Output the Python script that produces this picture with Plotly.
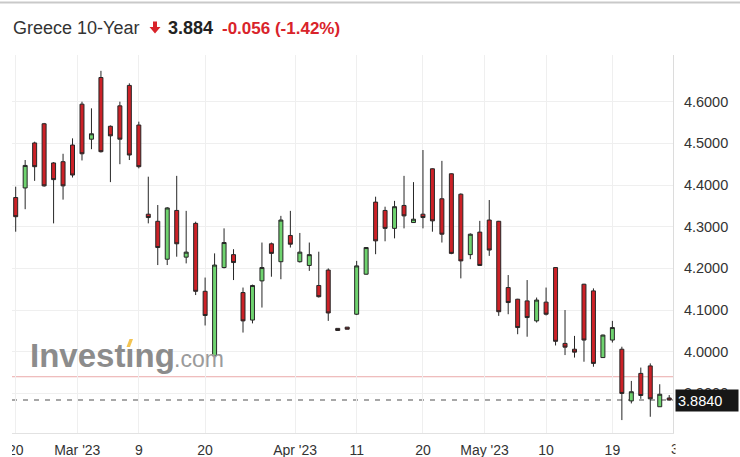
import plotly.graph_objects as go

# ---------------- data ----------------
dates = [
    "2023-02-20", "2023-02-21", "2023-02-22", "2023-02-23", "2023-02-24", "2023-02-27", "2023-02-28",
    "2023-03-01", "2023-03-02", "2023-03-03", "2023-03-06", "2023-03-07", "2023-03-08", "2023-03-09",
    "2023-03-10", "2023-03-13", "2023-03-14", "2023-03-15", "2023-03-16", "2023-03-17", "2023-03-20",
    "2023-03-21", "2023-03-22", "2023-03-23", "2023-03-24", "2023-03-27", "2023-03-28", "2023-03-29",
    "2023-03-30", "2023-03-31",
    "2023-04-03", "2023-04-04", "2023-04-05", "2023-04-06", "2023-04-07", "2023-04-10", "2023-04-11",
    "2023-04-12", "2023-04-13", "2023-04-14", "2023-04-17", "2023-04-18", "2023-04-19", "2023-04-20",
    "2023-04-21", "2023-04-24", "2023-04-25", "2023-04-26", "2023-04-27", "2023-04-28",
    "2023-05-02", "2023-05-03", "2023-05-04", "2023-05-05", "2023-05-08", "2023-05-09", "2023-05-10",
    "2023-05-11", "2023-05-12", "2023-05-15", "2023-05-16", "2023-05-17", "2023-05-18", "2023-05-19",
    "2023-05-22", "2023-05-23", "2023-05-24", "2023-05-25", "2023-05-26", "2023-05-29",
]

open_ = [
    4.370, 4.393, 4.501, 4.547, 4.453, 4.456, 4.496, 4.594, 4.510, 4.658,
    4.541, 4.590, 4.639, 4.544, 4.330, 4.313, 4.222, 4.339, 4.227, 4.308,
    4.145, 3.990, 4.202, 4.233, 4.142, 4.076, 4.170, 4.259, 4.216, 4.279,
    4.216, 4.207, 4.159, 4.196, 4.056, 4.059, 4.090, 4.186, 4.359, 4.339,
    4.296, 4.351, 4.310, 4.330, 4.439, 4.367, 4.427, 4.378, 4.233, 4.287,
    4.316, 4.313, 4.154, 4.126, 4.122, 4.074, 4.119, 4.202, 4.020, 4.006,
    4.162, 4.146, 3.986, 4.028, 4.006, 3.882, 3.948, 3.966, 3.868, 3.889,
]
high = [
    4.396, 4.460, 4.504, 4.549, 4.455, 4.475, 4.512, 4.600, 4.584, 4.674,
    4.543, 4.600, 4.644, 4.552, 4.420, 4.352, 4.347, 4.422, 4.338, 4.312,
    4.178, 4.236, 4.296, 4.246, 4.154, 4.161, 4.262, 4.262, 4.326, 4.338,
    4.285, 4.262, 4.240, 4.200, 4.056, 4.059, 4.218, 4.251, 4.372, 4.348,
    4.362, 4.422, 4.407, 4.484, 4.440, 4.458, 4.428, 4.380, 4.284, 4.314,
    4.364, 4.314, 4.184, 4.127, 4.172, 4.130, 4.154, 4.203, 4.100, 4.038,
    4.163, 4.152, 4.041, 4.074, 4.012, 3.930, 3.962, 3.972, 3.922, 3.896,
]
low = [
    4.288, 4.342, 4.410, 4.396, 4.308, 4.365, 4.418, 4.459, 4.486, 4.478,
    4.407, 4.450, 4.460, 4.440, 4.308, 4.208, 4.208, 4.228, 4.212, 4.136,
    4.063, 3.988, 4.200, 4.172, 4.046, 4.068, 4.106, 4.180, 4.174, 4.250,
    4.214, 4.194, 4.130, 4.074, 4.051, 4.054, 4.088, 4.185, 4.234, 4.265,
    4.272, 4.296, 4.309, 4.296, 4.288, 4.262, 4.234, 4.176, 4.222, 4.206,
    4.230, 4.086, 4.090, 4.042, 4.036, 4.070, 4.087, 4.015, 3.992, 3.986,
    3.976, 3.964, 3.985, 4.022, 3.836, 3.876, 3.887, 3.844, 3.868, 3.883,
]
close = [
    4.324, 4.447, 4.444, 4.398, 4.413, 4.398, 4.424, 4.475, 4.523, 4.480,
    4.518, 4.510, 4.472, 4.444, 4.322, 4.250, 4.345, 4.259, 4.239, 4.145,
    4.087, 4.208, 4.262, 4.214, 4.074, 4.159, 4.202, 4.236, 4.316, 4.258,
    4.239, 4.233, 4.132, 4.093, 4.051, 4.054, 4.206, 4.250, 4.266, 4.296,
    4.348, 4.326, 4.318, 4.322, 4.314, 4.282, 4.236, 4.218, 4.282, 4.207,
    4.244, 4.096, 4.118, 4.058, 4.082, 4.124, 4.090, 4.025, 4.011, 3.999,
    4.028, 3.972, 4.040, 4.058, 3.900, 3.904, 3.895, 3.887, 3.898, 3.884,
]

tick_labels = ["20", "Mar '23", "9", "20", "Apr '23", "11", "20", "May '23", "10", "19"]
tick_index = [0, 6.5, 13, 20, 29.5, 36, 43, 49.5, 56, 63]
next_tick_label = "30"      # first label past the right edge, only partly visible
next_tick_index = 70
y_ticks = [3.9, 4.0, 4.1, 4.2, 4.3, 4.4, 4.5, 4.6]

last_price = 3.884
prev_close = 3.940
change = -0.056
change_pct = -1.42

# ---------------- layout helpers ----------------
W, H = 740, 457
ML, MR, MT, MB = 12, 67, 55, 24
PW, PH = W - ML - MR, H - MT - MB
X_RANGE = [-0.39, 69.4]


def px(x):
    return (x - ML) / PW


def py(y):
    return (H - MB - y) / PH


FONT = "Liberation Sans, Arial, sans-serif"
xs = list(range(len(dates)))

fig = go.Figure()
fig.add_trace(go.Candlestick(
    x=xs, open=open_, high=high, low=low, close=close,
    customdata=dates,
    increasing=dict(line=dict(color="#262626", width=1), fillcolor="#6fd36f"),
    decreasing=dict(line=dict(color="#262626", width=1), fillcolor="#cc2127"),
    whiskerwidth=0,
    hoverinfo="skip",
    showlegend=False,
))

shapes = [
    # previous close line
    dict(type="line", xref="paper", yref="y", x0=0, x1=1, y0=prev_close, y1=prev_close,
         line=dict(color="#eaa9a9", width=1), layer="below"),
    # last price dashed line
    dict(type="line", xref="paper", yref="y", x0=0, x1=1, y0=last_price, y1=last_price,
         line=dict(color="#8a8a8a", width=1.5, dash="5px,6px"), layer="below"),
    # top separator line
    dict(type="line", xref="paper", yref="paper", x0=px(0), x1=px(W), y0=py(2.5), y1=py(2.5),
         line=dict(color="#c9c9c9", width=2)),
    # mask clipping the first x label at the plot's left edge
    dict(type="rect", xref="paper", yref="paper", x0=px(-20), x1=px(ML), y0=py(434), y1=py(470),
         fillcolor="white", line=dict(width=0), layer="above"),
    # red down arrow in the header
    dict(type="path", xref="paper", yref="paper",
         path=("M {a},{b} L {c},{b} L {c},{d} L {e},{d} L {f},{g} L {h},{d} L {a2},{d} Z").format(
             a=px(153), b=py(21.5), c=px(157), d=py(27), e=px(160.5), f=px(155), g=py(33.5),
             h=px(149.5), a2=px(153)),
         fillcolor="#d9232a", line=dict(width=0)),
    # yellow accent of the logo
    dict(type="path", xref="paper", yref="paper",
         path="M {},{} L {},{} L {},{} L {},{} Z".format(
             px(126.5), py(347), px(129.5), py(339), px(133), py(339), px(130), py(347)),
         fillcolor="#f3c452", line=dict(width=0), layer="above"),
]

# paper position of the out-of-range tick
next_tick_paper = (next_tick_index - X_RANGE[0]) / (X_RANGE[1] - X_RANGE[0])

annotations = [
    dict(text="Greece 10-Year", xref="paper", yref="paper", x=px(11), y=py(28),
         xanchor="left", yanchor="middle", showarrow=False,
         font=dict(family=FONT, size=18, color="#333333")),
    dict(text="<b>%.3f</b>" % last_price, xref="paper", yref="paper", x=px(166), y=py(28),
         xanchor="left", yanchor="middle", showarrow=False,
         font=dict(family=FONT, size=18, color="#222222")),
    dict(text="<b>%.3f (%.2f%%)</b>" % (change, change_pct), xref="paper", yref="paper",
         x=px(220), y=py(28), xanchor="left", yanchor="middle", showarrow=False,
         font=dict(family=FONT, size=17, color="#d9232a")),
    # watermark
    dict(text="<b>Investıng</b>", xref="paper", yref="paper", x=px(28), y=py(355),
         xanchor="left", yanchor="middle", showarrow=False,
         font=dict(family=FONT, size=33, color="#8c8c8c")),
    dict(text=".com", xref="paper", yref="paper", x=px(172), y=py(359),
         xanchor="left", yanchor="middle", showarrow=False,
         font=dict(family=FONT, size=23, color="#9b9b9b")),
    # partly visible next date label, cut at the plot's right edge
    dict(text=next_tick_label, xref="paper", yref="paper", x=next_tick_paper, y=py(449),
         xanchor="center", yanchor="middle", showarrow=False,
         font=dict(family=FONT, size=14, color="#333333")),
    dict(text=" ", xref="paper", yref="paper", x=px(674.5), y=py(449),
         xanchor="left", yanchor="middle", showarrow=False,
         width=30, height=20, bgcolor="white"),
    # last price box on the axis
    dict(text="%.4f" % last_price, xref="paper", yref="y", x=px(675), y=last_price,
         xanchor="left", yanchor="middle", showarrow=False, align="left",
         width=58, height=17, borderpad=2, bgcolor="#161616",
         font=dict(family=FONT, size=14.5, color="white")),
]

fig.update_layout(
    width=W, height=H,
    margin=dict(l=ML, r=MR, t=MT, b=MB, pad=0),
    paper_bgcolor="white", plot_bgcolor="white",
    font=dict(family=FONT, color="#333333"),
    boxgap=0.4,
    shapes=shapes,
    annotations=annotations,
    hovermode=False,
    xaxis=dict(
        range=X_RANGE, tickmode="array", tickvals=tick_index, ticktext=tick_labels,
        showgrid=True, gridcolor="#efefef", gridwidth=1, zeroline=False,
        showline=True, linecolor="#e2e2e2", linewidth=1,
        ticks="outside", ticklen=4, tickcolor="rgba(0,0,0,0)",
        tickfont=dict(family=FONT, size=14, color="#333333"),
        rangeslider=dict(visible=False), fixedrange=True, automargin=False,
    ),
    yaxis=dict(
        side="right", range=[3.805, 4.712], tickmode="array", tickvals=y_ticks,
        tickformat=".4f",
        showgrid=True, gridcolor="#efefef", gridwidth=1, zeroline=False,
        showline=True, linecolor="#dcdcdc", linewidth=1,
        ticks="outside", ticklen=7, tickcolor="rgba(0,0,0,0)",
        tickfont=dict(family=FONT, size=14.5, color="#333333"),
        fixedrange=True, automargin=False,
    ),
)

# page without the default body margin so the 740x457 figure fills the window exactly
fig.write_html(
    "out.html",
    config={"displayModeBar": False, "responsive": False},
    post_script="document.documentElement.style.margin='0';document.body.style.margin='0';"
                "document.body.style.overflow='hidden';",
)
